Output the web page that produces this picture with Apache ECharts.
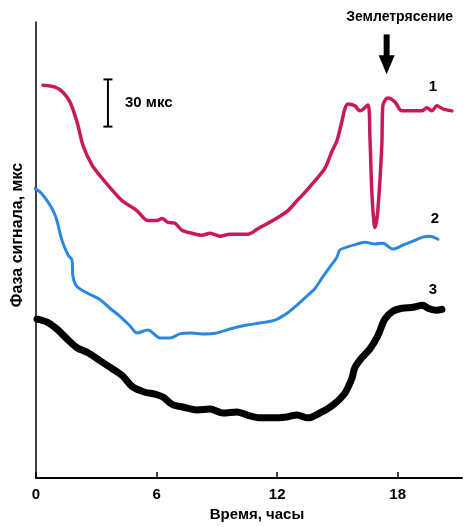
<!DOCTYPE html>
<html>
<head>
<meta charset="utf-8">
<script src="https://cdn.jsdelivr.net/npm/echarts@6/dist/echarts.min.js"></script>
<style>html,body{margin:0;padding:0;background:#fff}#c{width:466px;height:527px}</style>
</head>
<body>
<div id="c"></div>
<script>
// Hours (x) and signal phase in мкс (y, arbitrary offsets per curve)
const xTicks = [0, 6, 12, 18];
const curve1 = [[0.35,249.8],[0.95,248.6],[1.34,245.4],[1.69,239.2],[2.04,226.6],[2.34,211.5],[2.79,199.0],[3.28,190.8],[3.78,183.3],[4.28,176.4],[5.02,170.1],[5.57,163.8],[6.02,163.8],[6.27,165.1],[6.57,162.6],[6.92,162.0],[7.26,157.6],[7.76,155.7],[8.26,154.4],[8.66,155.7],[9.15,153.8],[9.65,155.1],[10.15,155.1],[10.55,155.1],[11.00,158.2],[11.54,162.0],[12.04,165.7],[12.54,170.1],[12.99,176.4],[13.28,180.2],[13.88,189.0],[14.38,197.1],[14.73,207.8],[14.98,214.7],[15.22,226.6],[15.37,234.8],[15.52,237.9],[15.87,236.7],[16.12,233.5],[16.52,237.3],[16.62,215.9],[16.72,180.2],[16.87,159.4],[17.01,170.1],[17.21,211.5],[17.26,236.7],[17.51,241.7],[17.86,239.2],[18.21,233.5],[18.71,233.5],[19.20,233.5],[19.45,235.4],[19.70,233.5],[19.95,236.7],[20.25,234.8],[20.70,233.5]];
const curve2 = [[-0.15,184.6],[0.20,182.0],[0.55,176.4],[0.85,170.1],[1.04,163.8],[1.29,151.3],[1.59,141.9],[1.79,138.7],[1.84,128.1],[2.04,121.8],[2.59,117.4],[3.18,113.6],[3.68,108.0],[4.18,102.9],[4.68,96.7],[5.02,92.3],[5.57,94.2],[6.17,89.1],[6.67,89.1],[7.16,91.7],[7.76,92.3],[8.26,91.7],[9.00,92.3],[9.65,94.8],[10.50,97.3],[11.14,98.6],[11.89,100.4],[12.49,104.8],[13.03,110.5],[13.63,117.4],[13.88,120.5],[14.28,128.1],[14.63,134.3],[14.98,140.6],[15.12,145.0],[15.47,146.9],[15.97,148.8],[16.37,150.0],[16.87,148.8],[17.26,149.4],[17.76,145.6],[18.26,148.1],[18.76,150.7],[19.25,153.2],[19.60,153.8],[20.00,151.9]];
const curve3 = [[0.05,101.1],[0.55,99.2],[1.04,94.8],[1.54,88.5],[2.04,82.9],[2.59,79.7],[3.18,74.7],[3.78,69.7],[4.28,65.3],[4.83,57.8],[5.42,54.6],[5.92,53.4],[6.32,51.5],[6.82,46.5],[7.31,45.2],[8.01,43.3],[8.66,43.9],[9.30,41.4],[10.00,42.1],[10.65,39.5],[11.14,38.3],[11.79,38.3],[12.49,38.9],[12.99,40.2],[13.53,38.3],[14.13,41.4],[14.78,46.5],[15.37,54.0],[15.72,63.4],[15.87,70.3],[16.22,76.6],[16.62,82.2],[17.01,90.4],[17.36,101.1],[17.76,106.1],[18.21,108.0],[18.76,108.6],[19.25,109.9],[19.50,108.0],[19.95,106.7],[20.20,107.3]];
const curveLabels = [['1', 19.75, 249], ['2', 19.85, 165], ['3', 19.75, 120]];
const quakeHour = 17.45;
const quakeText = 'Землетрясение';
const scaleBar = { hour: 3.58, from: 223.5, len: 30, text: '30 мкс' };
const xName = 'Время, часы';
const yName = 'Фаза сигнала, мкс';

const FONT = '"Liberation Sans", Arial, sans-serif';
const chart = echarts.init(document.getElementById('c'), null, { renderer: 'canvas' });
const lineSeries = (data, color, width) => ({
  type: 'line', data, showSymbol: false, symbol: 'none', smooth: 0.3, clip: false,
  lineStyle: { color, width, cap: 'round', join: 'round' }, animation: false
});
chart.setOption({
  animation: false,
  grid: { left: 36, right: 4, top: 22, bottom: 43 },
  xAxis: {
    type: 'value', min: 0, max: 21.2, interval: 6,
    name: xName, nameLocation: 'middle', nameGap: 25,
    nameTextStyle: { fontFamily: FONT, fontWeight: 'bold', fontSize: 15, color: '#000', padding: [0, 0, 0, 16] },
    axisLine: { show: true, lineStyle: { color: '#000', width: 2 } },
    axisTick: { show: true, inside: true, length: 6, lineStyle: { color: '#000', width: 1.5 } },
    axisLabel: { show: true, margin: 9, fontFamily: FONT, fontWeight: 'bold', fontSize: 15, color: '#000', showMaxLabel: false,
      formatter: v => (xTicks.indexOf(v) >= 0 ? String(v) : '') },
    splitLine: { show: false }
  },
  yAxis: {
    type: 'value', min: 0, max: 290,
    axisLine: { show: true, onZero: false, lineStyle: { color: '#000', width: 1.5 } },
    axisTick: { show: false }, axisLabel: { show: false }, splitLine: { show: false }
  },
  series: [
    lineSeries(curve1, '#c8195a', 3.5),
    lineSeries(curve2, '#2a88e0', 3),
    lineSeries(curve3, '#000000', 7)
  ]
});

const px = (h, v) => chart.convertToPixel({ gridIndex: 0 }, [h, v]);
const g = [];
// curve number labels
curveLabels.forEach(([t, h, v]) => {
  const p = px(h, v);
  g.push({ type: 'text', x: p[0], y: p[1], style: { text: t, fontFamily: FONT, fontWeight: 'bold', fontSize: 15, fill: '#000', textAlign: 'center', textVerticalAlign: 'middle' } });
});
// earthquake arrow
const tip = px(quakeHour, 256.7);
g.push({ type: 'rect', shape: { x: tip[0] - 3, y: tip[1] - 40, width: 6, height: 26 }, style: { fill: '#000' } });
g.push({ type: 'polygon', shape: { points: [[tip[0] - 8, tip[1] - 19], [tip[0] + 8, tip[1] - 19], [tip[0], tip[1]]] }, style: { fill: '#000' } });
g.push({ type: 'text', x: tip[0] + 13, y: tip[1] - 57, style: { text: quakeText, fontFamily: FONT, fontWeight: 'bold', fontSize: 14, fill: '#000', textAlign: 'center', textVerticalAlign: 'middle' } });
// scale bar
const sb0 = px(scaleBar.hour, scaleBar.from), sb1 = px(scaleBar.hour, scaleBar.from + scaleBar.len);
g.push({ type: 'line', shape: { x1: sb0[0], y1: sb0[1], x2: sb1[0], y2: sb1[1] }, style: { stroke: '#000', lineWidth: 2 } });
g.push({ type: 'line', shape: { x1: sb0[0] - 4.5, y1: sb0[1], x2: sb0[0] + 4.5, y2: sb0[1] }, style: { stroke: '#000', lineWidth: 2 } });
g.push({ type: 'line', shape: { x1: sb1[0] - 4.5, y1: sb1[1], x2: sb1[0] + 4.5, y2: sb1[1] }, style: { stroke: '#000', lineWidth: 2 } });
g.push({ type: 'text', x: sb0[0] + 17, y: (sb0[1] + sb1[1]) / 2, style: { text: scaleBar.text, fontFamily: FONT, fontWeight: 'bold', fontSize: 15, fill: '#000', textAlign: 'left', textVerticalAlign: 'middle' } });
// y axis name
g.push({ type: 'text', x: 18, y: 235, rotation: Math.PI / 2, style: { text: yName, fontFamily: FONT, fontWeight: 'bold', fontSize: 16, fill: '#000', textAlign: 'center', textVerticalAlign: 'middle' } });
chart.setOption({ graphic: g });
</script>
</body>
</html>
